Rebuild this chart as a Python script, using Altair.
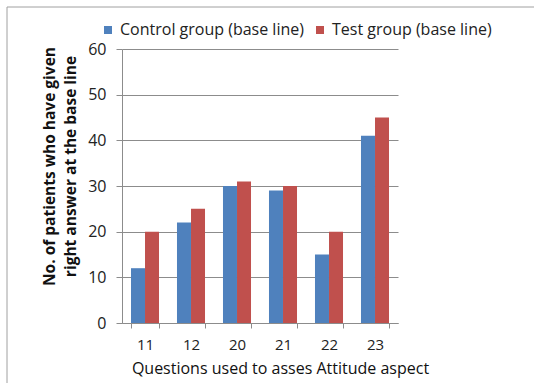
import altair as alt
import pandas as pd

# Question numbers and the count of correct answers per group at baseline
questions = ["11", "12", "20", "21", "22", "23"]
control = [12, 22, 30, 29, 15, 41]
test = [20, 25, 31, 30, 20, 45]
groups = ["Control group (base line)", "Test group (base line)"]
colors = ["#4F81BD", "#C0504D"]

rows = []
for q, c, t in zip(questions, control, test):
    rows.append({"question": q, "group": groups[0], "count": c})
    rows.append({"question": q, "group": groups[1], "count": t})
df = pd.DataFrame(rows)

FONT = "Open Sans"

bars = alt.Chart(df).mark_bar(size=14).encode(
    x=alt.X(
        "question:N",
        sort=questions,
        scale=alt.Scale(paddingInner=0.39, paddingOuter=0.195),
        axis=alt.Axis(
            title="Questions used to asses Attitude aspect",
            labelAngle=0,
            grid=False,
            tickBand="extent",
            tickSize=5,
            labelPadding=9,
            labelFontSize=15,
            titlePadding=8,
            titleX=158,
            titleFontWeight="normal",
            titleFontSize=16,
        ),
    ),
    xOffset=alt.XOffset("group:N", sort=groups),
    y=alt.Y(
        "count:Q",
        scale=alt.Scale(domain=[0, 60]),
        axis=alt.Axis(
            title=["No. of patients who have given", "right answer at the base line"],
            values=[0, 10, 20, 30, 40, 50, 60],
            tickSize=6,
            labelPadding=10,
            titlePadding=9,
            titleY=117,
            titleFontWeight="bold",
            titleFontSize=15.5,
            titleLineHeight=21,
        ),
    ),
    color=alt.Color(
        "group:N",
        sort=groups,
        scale=alt.Scale(domain=groups, range=colors),
        legend=alt.Legend(
            title=None,
            orient="none",
            direction="horizontal",
            legendX=-22,
            legendY=-27,
            symbolType="square",
            symbolSize=64,
            symbolStrokeWidth=0,
            labelFontSize=16,
            labelFont=FONT,
            labelColor="#222222",
            labelLimit=0,
            columnPadding=8,
            labelOffset=4,
        ),
    ),
)

# thin outer frame around the figure
frame = alt.Chart(pd.DataFrame({"k": [0]})).mark_rect(
    fill=None, stroke="#A0A0A0", strokeWidth=1
).encode(
    x=alt.value(-115), x2=alt.value(420), y=alt.value(-42), y2=alt.value(80 + 273)
)

chart = alt.layer(frame, bars).properties(
    width=276,
    height=274,
    background="white",
    autosize=alt.AutoSizeParams(type="none"),
    padding={"left": 122, "top": 49, "right": 136, "bottom": 60},
).configure_view(
    stroke=None
).configure_axis(
    labelFont=FONT,
    titleFont=FONT,
    labelFontSize=16,
    titleFontSize=15,
    labelColor="#222222",
    titleColor="#111111",
    domainColor="#8C8C8C",
    tickColor="#8C8C8C",
    gridColor="#8C8C8C",
    gridWidth=1,
)

chart.save("out.html", embed_options={"renderer": "svg", "actions": False})
